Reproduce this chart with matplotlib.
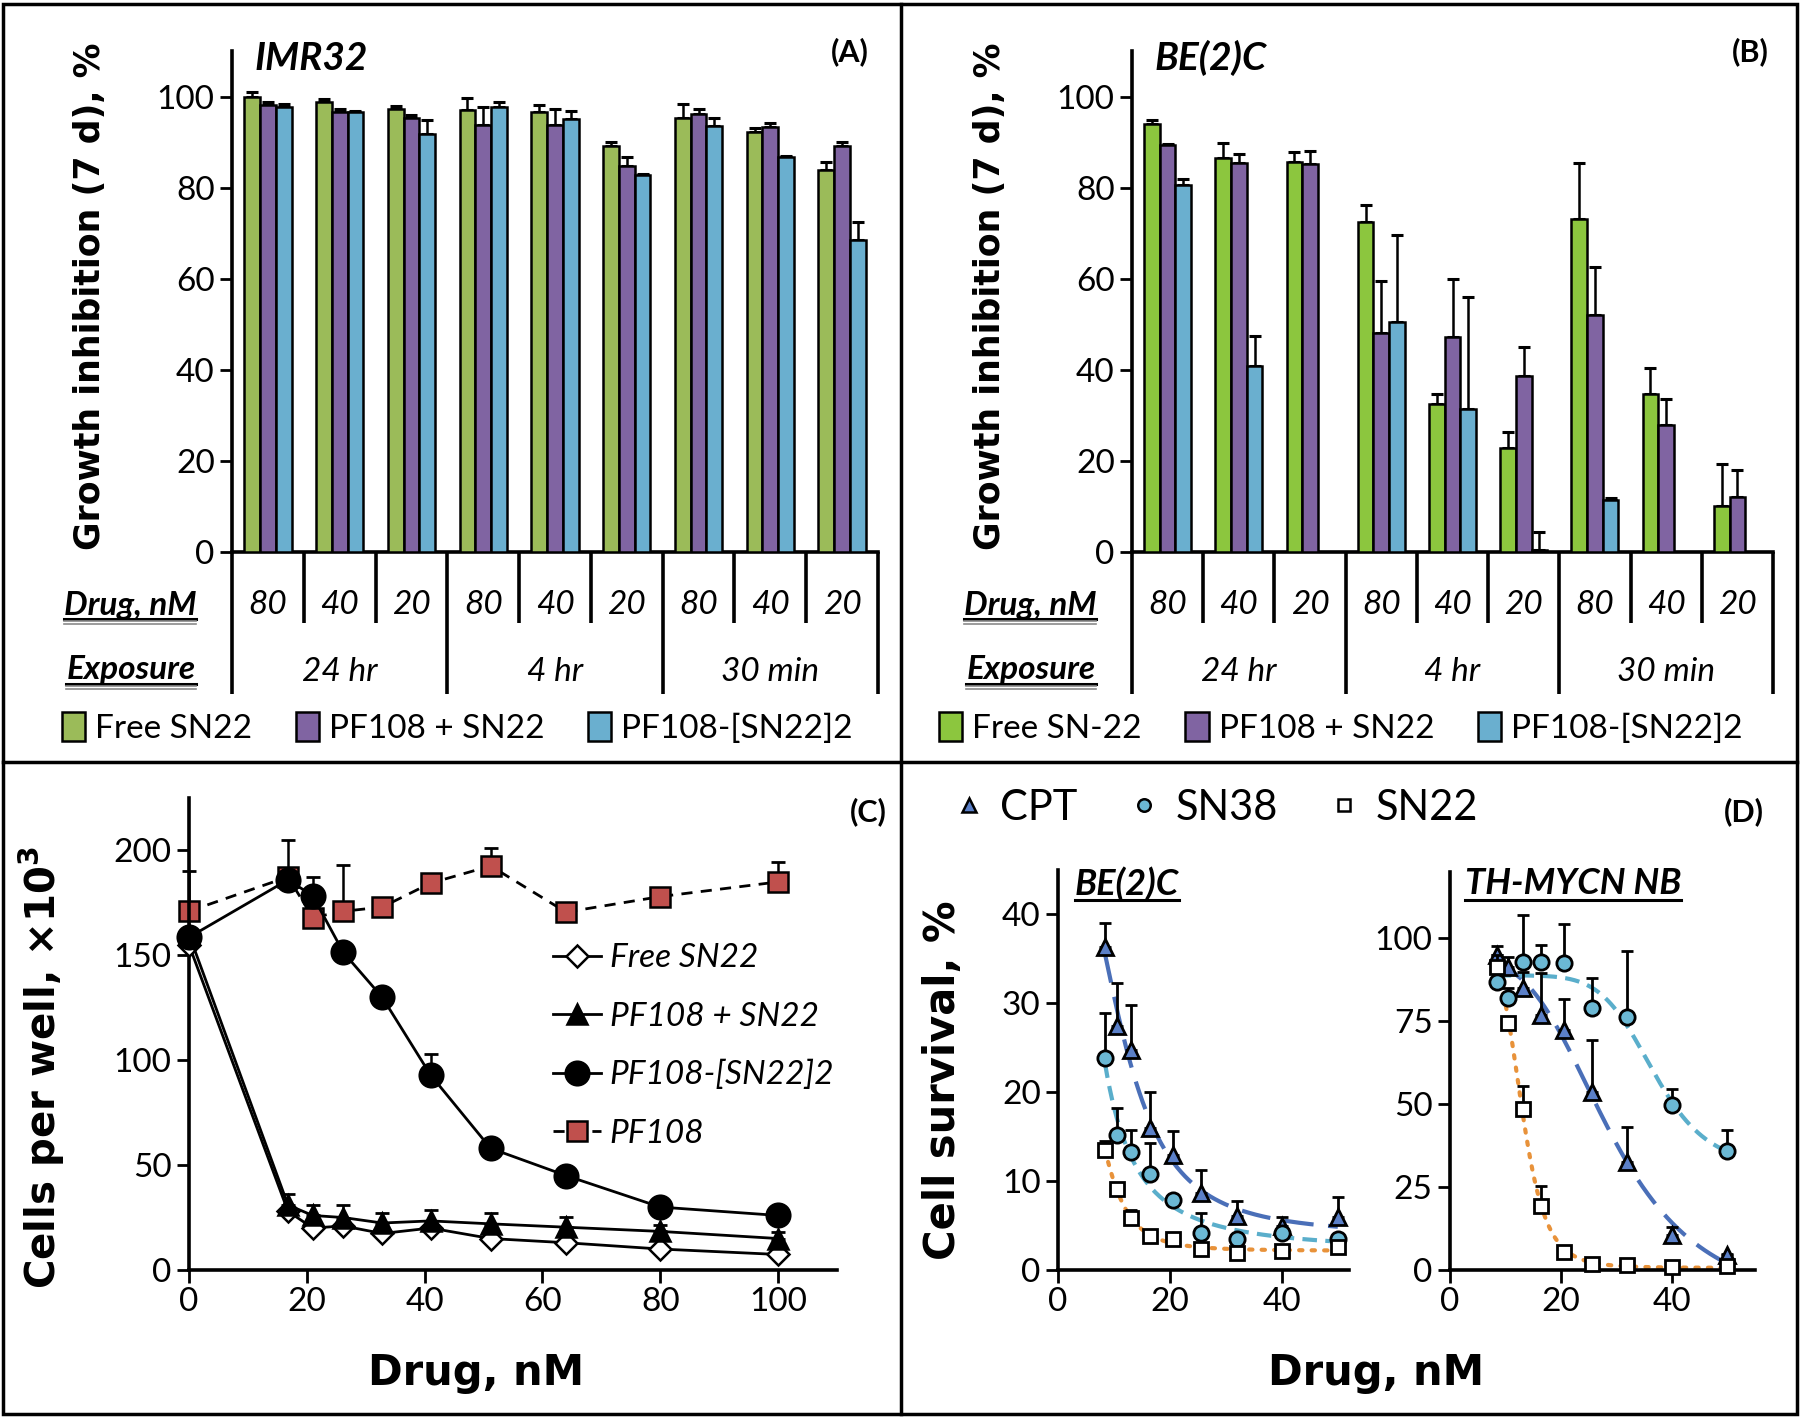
import numpy as np
import matplotlib
matplotlib.use('Agg')
import matplotlib.pyplot as plt
from matplotlib.patches import Patch, Rectangle
from matplotlib.lines import Line2D

# ---------------- data ----------------
dose_labels = ['80', '40', '20', '80', '40', '20', '80', '40', '20']
exposure_labels = ['24 hr', '4 hr', '30 min']
series_A = ['Free SN22', 'PF108 + SN22', 'PF108-[SN22]2']
series_B = ['Free SN-22', 'PF108 + SN22', 'PF108-[SN22]2']

A_free = [99.8, 98.7, 97.3, 97.0, 96.7, 89.2, 95.3, 92.2, 83.9]
A_free_err = [1.1, 0.7, 0.7, 2.6, 1.5, 0.8, 3.1, 0.9, 1.8]
A_mix = [98.2, 96.5, 95.3, 93.7, 93.7, 84.7, 96.2, 93.3, 89.2]
A_mix_err = [0.5, 0.8, 0.7, 3.9, 3.5, 2.0, 1.0, 0.8, 0.8]
A_conj = [97.6, 96.5, 91.8, 97.6, 95.1, 82.7, 93.5, 86.7, 68.6]
A_conj_err = [0.8, 0.3, 3.1, 1.2, 1.8, 0.4, 1.8, 0.3, 3.8]

B_free = [94.0, 86.4, 85.6, 72.4, 32.4, 22.9, 73.2, 34.7, 10.0]
B_free_err = [0.9, 3.4, 2.2, 3.8, 2.4, 3.4, 12.3, 5.7, 9.4]
B_mix = [89.3, 85.4, 85.1, 48.1, 47.3, 38.7, 52.0, 27.8, 12.0]
B_mix_err = [0.3, 2.0, 3.0, 11.5, 12.7, 6.3, 10.5, 5.9, 6.0]
B_conj = [80.6, 40.8, np.nan, 50.4, 31.4, 0.5, 11.4, np.nan, np.nan]
B_conj_err = [1.3, 6.7, np.nan, 19.1, 24.5, 3.9, 0.5, np.nan, np.nan]

C_x = [0, 16.8, 21.0, 26.2, 32.8, 41.0, 51.2, 64.0, 80.0, 100.0]
C_free = [155, 28, 20, 21, 17.4, 20, 15, 13, 10, 7.4]
C_free_err = [0, 1, 1, 1, 1, 1, 1, 1, 1, 1]
C_mix = [160, 31, 26, 25, 22.4, 23.4, 22, 20.4, 18.4, 15]
C_mix_err = [3, 5, 5, 6, 5, 5, 5, 5, 3, 3]
C_conj = [158.6, 186, 178.4, 151.4, 130, 93, 58, 45, 30, 26]
C_conj_err = [2, 2, 9, 2, 1, 10, 1, 1, 1, 1]
C_pf = [171, 187.4, 168, 171, 173, 184.4, 192.6, 170.6, 178, 185]
C_pf_err = [19, 17.6, 3, 22, 2, 2, 8.4, 2, 3, 9.6]
C_names = ['Free SN22', 'PF108 + SN22', 'PF108-[SN22]2', 'PF108']

D_x = [8.4, 10.5, 13.1, 16.4, 20.5, 25.6, 32.0, 40.0, 50.0]
D_names = ['CPT', 'SN38', 'SN22']
# BE(2)C
Db_cpt = [36.3, 27.4, 24.8, 16.0, 12.9, 8.7, 6.1, 5.0, 6.0]
Db_cpt_err = [2.7, 4.9, 5.0, 4.0, 2.7, 2.6, 1.7, 1.0, 2.2]
Db_sn38 = [23.9, 15.2, 13.3, 10.8, 7.9, 4.2, 3.5, 4.2, 3.5]
Db_sn38_err = [5.0, 3.0, 2.5, 3.5, 0.5, 2.2, 0.5, 0.5, 0.5]
Db_sn22 = [13.5, 9.1, 5.8, 3.8, 3.5, 2.4, 1.9, 2.1, 2.6]
Db_sn22_err = [1.0, 0.3, 1.0, 0.3, 0.3, 0.3, 0.3, 0.3, 0.3]
# TH-MYCN NB
Dt_cpt = [95.0, 91.4, 85.0, 76.8, 72.3, 53.6, 32.6, 10.5, 4.4]
Dt_cpt_err = [2.7, 3.0, 5.0, 12.7, 9.5, 15.7, 10.5, 2.5, 0.5]
Dt_sn38 = [86.7, 82.0, 93.0, 93.0, 92.6, 79.0, 76.2, 49.7, 36.0]
Dt_sn38_err = [5.0, 3.0, 14.0, 5.0, 11.6, 9.0, 20.0, 5.0, 6.3]
Dt_sn22 = [91.3, 74.4, 48.4, 19.3, 5.4, 1.9, 1.6, 1.0, 1.3]
Dt_sn22_err = [3.8, 1.0, 7.0, 6.0, 1.0, 0.3, 0.3, 0.3, 0.3]

# ---------------- setup ----------------
W, H = 1800, 1418
plt.rcParams['font.family'] = ['Lato', 'DejaVu Sans']
fig = plt.figure(figsize=(W / 100, H / 100), dpi=100)
LAB = 'DejaVu Sans'


def fr(x0, y0, x1, y1):
    return [x0 / W, 1 - y1 / H, (x1 - x0) / W, (y1 - y0) / H]


def fx(x):
    return x / W


def fy(y):
    return 1 - y / H


def style_ticks(ax, size=24):
    for lab in ax.get_xticklabels() + ax.get_yticklabels():
        lab.set_family('Lato')
        lab.set_weight('normal')
        lab.set_fontsize(size)
    ax.tick_params(width=2, length=9, direction='out')
    for s in ['left', 'bottom']:
        ax.spines[s].set_linewidth(2.6)
    for s in ['top', 'right']:
        ax.spines[s].set_visible(False)


def underline(t, double=False, lw=2.2):
    r = fig.canvas.get_renderer()
    bb = t.get_window_extent(r)
    y = bb.y0 + 1
    fig.add_artist(Line2D([bb.x0 / W, bb.x1 / W], [y / H, y / H],
                          transform=fig.transFigure, color='black', lw=lw))
    if double:
        for k in (1, 2):
            yy = y - 2.5 * k
            fig.add_artist(Line2D([bb.x0 / W, bb.x1 / W], [yy / H, yy / H],
                                  transform=fig.transFigure, color='#8a8a8a', lw=1.2))


def bar_panel(xoff, right, vals, errs, colors, names, title, tag, leg_x):
    ax = fig.add_axes(fr(xoff + 232, 51, right, 552))
    n = len(dose_labels)
    x = np.arange(n) + 0.5
    w = 0.22
    for k, (v, e, c) in enumerate(zip(vals, errs, colors)):
        xs = x + (k - 1) * w
        v = np.asarray(v, float)
        e = np.asarray(e, float)
        ok = ~np.isnan(v)
        ax.errorbar(xs[ok], v[ok], yerr=[np.zeros(ok.sum()), e[ok]], fmt='none',
                    ecolor='black', elinewidth=1.8, capsize=4, capthick=2.2, zorder=2)
        ax.bar(xs[ok], v[ok], w, color=c, edgecolor='black', linewidth=1.8, zorder=3)
    ax.set_xlim(0, n)
    ax.set_ylim(0, 110)
    ax.set_yticks([0, 20, 40, 60, 80, 100])
    ax.set_xticks([])
    style_ticks(ax)
    for i in range(n + 1):
        low = -31.2 if i % 3 == 0 else -15.6
        ax.plot([i, i], [0, low], color='black', lw=2.6, clip_on=False, zorder=4,
                solid_capstyle='butt')
    for i, lab in enumerate(dose_labels):
        ax.text(x[i], -11.6, lab, ha='center', va='center', fontsize=24,
                style='italic', family='Lato')
    for g, lab in enumerate(exposure_labels):
        ax.text(3 * g + 1.5, -26.3, lab, ha='center', va='center', fontsize=24,
                style='italic', family='Lato')
    t1 = fig.text(fx(xoff + 130), fy(605), 'Drug, nM', ha='center', va='center',
                  fontsize=24, style='italic', weight='bold', family='Lato')
    t2 = fig.text(fx(xoff + 131), fy(670), 'Exposure', ha='center', va='center',
                  fontsize=24, style='italic', weight='bold', family='Lato')
    fig.text(fx(xoff + 90), fy(296), 'Growth inhibition (7 d), %', rotation=90,
             ha='center', va='center', fontsize=25, weight='bold', family=LAB)
    fig.text(fx(xoff + 255), fy(58), title, ha='left', va='center', fontsize=28,
             style='italic', weight='bold', family='Lato')
    fig.text(fx(xoff + 850), fy(52), tag, ha='center', va='center', fontsize=22,
             weight='bold', family='Lato')
    handles = [Patch(facecolor=c, edgecolor='black', linewidth=1.8) for c in colors]
    fig.legend(handles, names, loc='center left', bbox_to_anchor=(fx(leg_x), fy(728)),
               ncol=3, frameon=False, fontsize=24, handlelength=0.7, handleheight=0.95,
               handletextpad=0.3, columnspacing=1.3, borderpad=0, borderaxespad=0)
    return t1, t2


ul = []
ul += bar_panel(0, 878, [A_free, A_mix, A_conj], [A_free_err, A_mix_err, A_conj_err],
                ['#9BBB59', '#8064A2', '#6AAFCF'], series_A, 'IMR32', '(A)', 62)
ul += bar_panel(900, 1773, [B_free, B_mix, B_conj], [B_free_err, B_mix_err, B_conj_err],
                ['#8CC63E', '#8064A2', '#6AAFCF'], series_B, 'BE(2)C', '(B)', 939)

# ---------------- panel C ----------------
axC = fig.add_axes(fr(189, 798, 837, 1270))
cspec = [
    (C_free, C_free_err, dict(marker='D', mfc='white', ms=11, ls='-'), 3),
    (C_mix, C_mix_err, dict(marker='^', mfc='black', ms=14, ls='-'), 4),
    (C_conj, C_conj_err, dict(marker='o', mfc='black', ms=17, ls='-'), 5),
    (C_pf, C_pf_err, dict(marker='s', mfc='#C0504D', ms=14, ls=(0, (4, 3))), 2),
]
handlesC = []
for (v, e, st, z), name in zip(cspec, C_names):
    axC.errorbar(C_x, v, yerr=[np.zeros(len(e)), e], fmt='none', ecolor='black',
                 elinewidth=1.8, capsize=5, capthick=2, zorder=z - 0.5, clip_on=False)
    axC.plot(C_x, v, color='black', lw=2, mec='black', mew=1.8, zorder=z,
             clip_on=False, **st)
    handlesC.append(Line2D([], [], color='black', lw=2, mec='black', mew=1.8, **st))
axC.set_xlim(0, 110)
axC.set_ylim(0, 225)
axC.set_xticks([0, 20, 40, 60, 80, 100])
axC.set_yticks([0, 50, 100, 150, 200])
style_ticks(axC)
axC.legend(handlesC, C_names, loc='center left', bbox_to_anchor=(fx(553), fy(1046)),
           bbox_transform=fig.transFigure, frameon=False,
           prop=dict(family='Lato', style='italic', size=24),
           handlelength=1.45, handletextpad=0.25, labelspacing=0.85,
           borderpad=0, borderaxespad=0)
fig.text(fx(42), fy(1067), r'Cells per well, ×10$^{\mathbf{3}}$', rotation=90,
         ha='center', va='center', fontsize=29, weight='bold', family=LAB)
fig.text(fx(476), fy(1373), 'Drug, nM', ha='center', va='center', fontsize=30,
         weight='bold', family=LAB)
fig.text(fx(868), fy(812), '(C)', ha='center', va='center', fontsize=22,
         weight='bold', family='Lato')

# ---------------- panel D ----------------
cpt_c, sn38_c, sn22_c = '#5B80C8', '#6BB8D4', 'white'
line_c = {'CPT': '#4A6FB8', 'SN38': '#5AAECB', 'SN22': '#E8923A'}
line_ls = {'CPT': (0, (7, 3.5)), 'SN38': (0, (3.5, 2)), 'SN22': (0, (0.8, 2.2))}
mk = {'CPT': dict(marker='^', mfc=cpt_c, ms=11),
      'SN38': dict(marker='o', mfc=sn38_c, ms=11),
      'SN22': dict(marker='s', mfc=sn22_c, ms=10)}


def fit_logistic(x, y):
    x = np.asarray(x, float)
    y = np.asarray(y, float)
    best = None
    for c in np.geomspace(3, 120, 160):
        for h in np.linspace(0.5, 14, 110):
            f = 1.0 / (1.0 + (x / c) ** h)
            A = np.column_stack([1 - f, f])
            coef = np.linalg.lstsq(A, y, rcond=None)[0]
            sse = np.sum((A @ coef - y) ** 2)
            if best is None or sse < best[0]:
                best = (sse, c, h, coef)
    _, c, h, coef = best
    xx = np.linspace(x.min(), x.max(), 300)
    f = 1.0 / (1.0 + (xx / c) ** h)
    return xx, coef[0] * (1 - f) + coef[1] * f


def d_panel(rect, data, ylim, yticks, xlim, title, title_x):
    ax = fig.add_axes(fr(*rect))
    for name, (v, e) in zip(D_names, data):
        xx, yy = fit_logistic(D_x, v)
        ax.plot(xx, yy, color=line_c[name], ls=line_ls[name], lw=3,
                dash_capstyle='round' if name == 'SN22' else 'butt', zorder=2)
    for z, (name, (v, e)) in enumerate(zip(D_names, data)):
        ax.errorbar(D_x, v, yerr=[np.zeros(len(e)), e], fmt='none', ecolor='black',
                    elinewidth=2, capsize=4, capthick=2, zorder=3 + z, clip_on=False)
        ax.plot(D_x, v, ls='none', mec='black', mew=2, zorder=3.5 + z, clip_on=False,
                **mk[name])
    ax.set_xlim(*xlim)
    ax.set_ylim(*ylim)
    ax.set_xticks([0, 20, 40])
    ax.set_yticks(yticks)
    style_ticks(ax)
    t = fig.text(fx(title_x), fy(884), title, ha='left', va='center', fontsize=26,
                 style='italic', weight='bold', family='Lato')
    return ax, t


axD1, tD1 = d_panel((1058, 870, 1349, 1270),
                    [(Db_cpt, Db_cpt_err), (Db_sn38, Db_sn38_err), (Db_sn22, Db_sn22_err)],
                    (0, 45), [0, 10, 20, 30, 40], (0, 52), 'BE(2)C', 1075)
axD2, tD2 = d_panel((1450, 872, 1755, 1270),
                    [(Dt_cpt, Dt_cpt_err), (Dt_sn38, Dt_sn38_err), (Dt_sn22, Dt_sn22_err)],
                    (0, 120), [0, 25, 50, 75, 100], (0, 55), 'TH-MYCN NB', 1465)
handlesD = [Line2D([], [], ls='none', mec='black', mew=1.8,
                   **dict(mk[n], ms=(10 if n == 'CPT' else 9))) for n in D_names]
fig.legend(handlesD, D_names, loc='center left', bbox_to_anchor=(fx(952), fy(808)),
           ncol=3, frameon=False, fontsize=30, handlelength=0.8, handletextpad=0.35,
           columnspacing=1.2, borderpad=0, borderaxespad=0)
fig.text(fx(943), fy(1080), 'Cell survival, %', rotation=90, ha='center', va='center',
         fontsize=30, weight='bold', family=LAB)
fig.text(fx(1376), fy(1373), 'Drug, nM', ha='center', va='center', fontsize=30,
         weight='bold', family=LAB)
fig.text(fx(1744), fy(812), '(D)', ha='center', va='center', fontsize=22,
         weight='bold', family='Lato')

# ---------------- frame ----------------
fig.add_artist(Rectangle((3 / W, 4 / H), 1794 / W, 1410 / H, transform=fig.transFigure,
                         fill=False, lw=2.5, ec='black'))
fig.add_artist(Line2D([3 / W, 1797 / W], [fy(762), fy(762)], transform=fig.transFigure,
                      color='black', lw=2.5))
fig.add_artist(Line2D([fx(901), fx(901)], [4 / H, 1414 / H], transform=fig.transFigure,
                      color='black', lw=2.5))

fig.canvas.draw()
for t in ul:
    underline(t, double=True)
underline(tD1)
underline(tD2)

fig.savefig('out.png', dpi=100)
